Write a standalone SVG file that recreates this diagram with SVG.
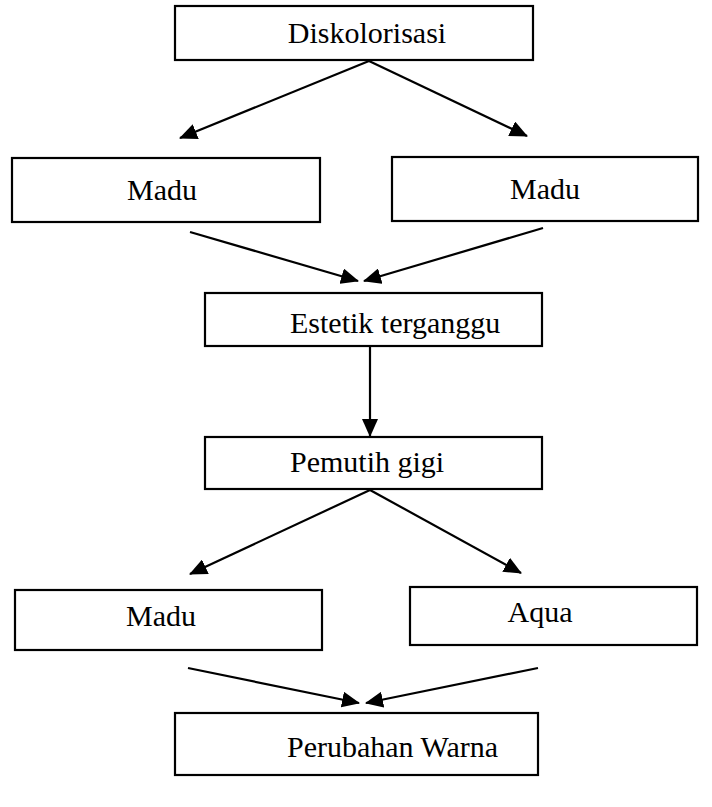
<svg xmlns="http://www.w3.org/2000/svg" width="712" height="807" viewBox="0 0 712 807">
<defs>
<style>
.box{fill:#fff;stroke:#000;stroke-width:2.2}
.lbl{font-family:"Liberation Serif","Times New Roman",serif;font-size:30px;fill:#000}
.c{text-anchor:middle}
.edge{stroke:#000;stroke-width:2.2;fill:none;marker-end:url(#ah)}
</style>
<marker id="ah" markerUnits="userSpaceOnUse" markerWidth="18" markerHeight="16" refX="17" refY="8" orient="auto">
<path d="M0,0 L18,8 L0,16 Z" fill="#000"/>
</marker>
</defs>
<rect width="712" height="807" fill="#fff"/>
<g id="n1"><rect class="box" x="175" y="6" width="358" height="54"/><text class="lbl c" x="367" y="43">Diskolorisasi</text></g>
<g id="n2"><rect class="box" x="12" y="158" width="308" height="64"/><text class="lbl c" x="162" y="200">Madu</text></g>
<g id="n3"><rect class="box" x="392" y="157" width="306" height="64"/><text class="lbl c" x="545" y="199">Madu</text></g>
<g id="n4"><rect class="box" x="205" y="293" width="337" height="53"/><text class="lbl" x="290" y="333">Estetik terganggu</text></g>
<g id="n5"><rect class="box" x="205" y="437" width="337" height="52"/><text class="lbl" x="290" y="472">Pemutih gigi</text></g>
<g id="n6"><rect class="box" x="15" y="590" width="307" height="60"/><text class="lbl c" x="161" y="626">Madu</text></g>
<g id="n7"><rect class="box" x="410" y="587" width="287" height="58"/><text class="lbl c" x="540" y="622">Aqua</text></g>
<g id="n8"><rect class="box" x="175" y="713" width="363" height="62"/><text class="lbl" x="287" y="757">Perubahan Warna</text></g>
<g id="edges">
<line class="edge" x1="369" y1="61" x2="180" y2="138"/>
<line class="edge" x1="369" y1="61" x2="527" y2="136"/>
<line class="edge" x1="190" y1="232" x2="358" y2="281"/>
<line class="edge" x1="543" y1="228" x2="364" y2="281"/>
<line class="edge" x1="370" y1="347" x2="370" y2="436"/>
<line class="edge" x1="370" y1="490" x2="190" y2="574"/>
<line class="edge" x1="370" y1="490" x2="521" y2="573"/>
<line class="edge" x1="188" y1="668" x2="359" y2="703"/>
<line class="edge" x1="538" y1="668" x2="366" y2="703"/>
</g>
</svg>
